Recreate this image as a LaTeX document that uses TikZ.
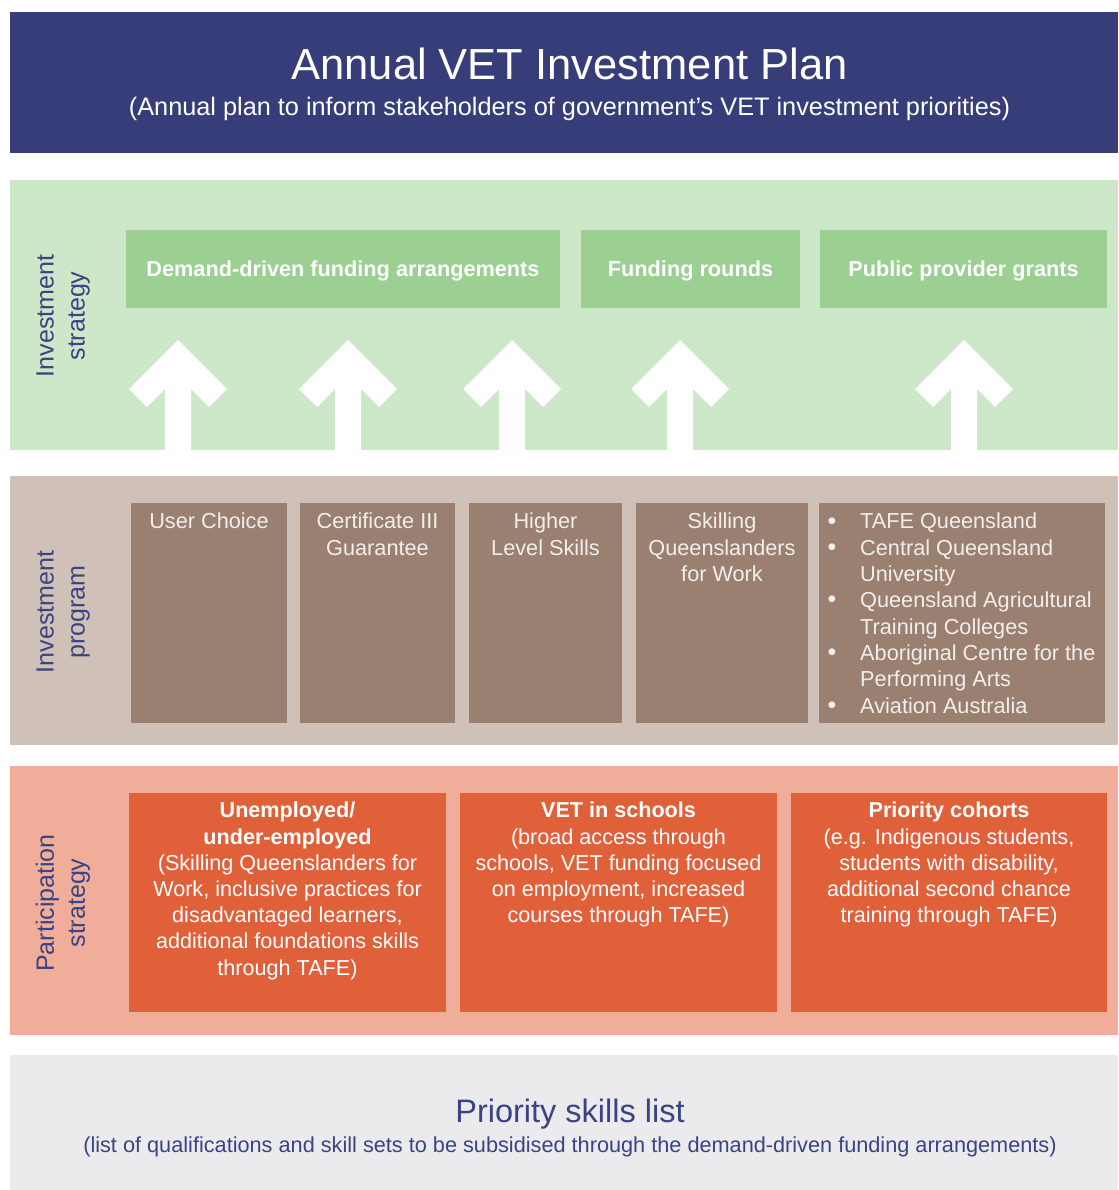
\documentclass[tikz,border=0pt]{standalone}
\usepackage{fontspec}
\setmainfont{Liberation Sans}
\definecolor{hdr}{HTML}{363D79}
\definecolor{navy}{HTML}{3A4383}
\definecolor{gband}{HTML}{CDE7C9}
\definecolor{gbox}{HTML}{9BD092}
\definecolor{bband}{HTML}{CFC1B8}
\definecolor{bbox}{HTML}{9A8070}
\definecolor{oband}{HTML}{F0AE9A}
\definecolor{obox}{HTML}{E0603A}
\definecolor{greyband}{HTML}{EBEBED}
\definecolor{ptext}{HTML}{F3EEEA}
\begin{document}
\begin{tikzpicture}[x=1pt,y=-1pt,
  sidelabel/.style={rotate=90, align=center, text=navy, inner sep=0pt,
    font=\fontsize{25}{31}\selectfont},
  stratbox/.style={fill=gbox, draw=none, inner sep=0pt},
  strattext/.style={inner sep=0pt, text=white, anchor=base,
    font=\fontsize{21.7}{25}\selectfont\bfseries},
  progbox/.style={fill=bbox, draw=none, inner sep=0pt},
  progtext/.style={anchor=north, align=center, inner sep=0pt, text=ptext,
    font=\fontsize{21.7}{26.3}\selectfont},
  partbox/.style={fill=obox, draw=none, inner sep=0pt},
  parttext/.style={anchor=north, align=center, inner sep=0pt, text=white,
    font=\fontsize{21.6}{26.2}\selectfont},
  bulletmark/.style={anchor=base, inner sep=0pt, text=ptext,
    font=\fontsize{25}{26.3}\selectfont},
  uparrow/.style={fill=white, draw=none}
]
\useasboundingbox (0,0) rectangle (1118,1190);

% ---------- header ----------
\fill[hdr] (10,12) rectangle (1118,153);
\node[anchor=base, inner sep=0pt, text=white, font=\fontsize{43.5}{50}\selectfont]
  (title) at (569.5,80) {Annual VET Investment Plan};
\node[anchor=base, inner sep=0pt, text=white, font=\fontsize{25.3}{28}\selectfont]
  (subtitle) at (569.5,116) {(Annual plan to inform stakeholders of government’s VET investment priorities)};

% ---------- investment strategy ----------
\fill[gband] (10,180) rectangle (1118,450);
\node[sidelabel] (lstrat) at (63,316) {Investment\\strategy};
\node[stratbox, minimum width=434pt, minimum height=78pt] (s1) at (343,269) {};
\node[stratbox, minimum width=219pt, minimum height=78pt] (s2) at (690.5,269) {};
\node[stratbox, minimum width=287pt, minimum height=78pt] (s3) at (963.5,269) {};
\node[strattext] (s1t) at (343,276.5) {Demand-driven funding arrangements};
\node[strattext] (s2t) at (690.5,276.5) {Funding rounds};
\node[strattext] (s3t) at (963.5,276.5) {Public provider grants};

\foreach \c in {178,348,512,680,964}{
  \fill[uparrow] (\c,340) -- (\c+49,389) -- (\c+31,407) -- (\c+13,389)
    -- (\c+13,450) -- (\c-13,450) -- (\c-13,389) -- (\c-31,407)
    -- (\c-49,389) -- cycle;
}

% ---------- investment program ----------
\fill[bband] (10,476) rectangle (1118,745);
\node[sidelabel] (lprog) at (63,612) {Investment\\program};
\node[progbox, minimum width=156pt, minimum height=220pt] (p1) at (209,613) {};
\node[progbox, minimum width=155pt, minimum height=220pt] (p2) at (377.5,613) {};
\node[progbox, minimum width=153pt, minimum height=220pt] (p3) at (545.5,613) {};
\node[progbox, minimum width=172pt, minimum height=220pt] (p4) at (722,613) {};
\node[progbox, minimum width=286pt, minimum height=220pt] (p5) at (962,613) {};

\node[progtext] (t1) at (209,513) {User Choice};
\node[progtext] (t2) at (377.5,513) {Certificate III\\Guarantee};
\node[progtext] (t3) at (545.5,513) {Higher\\Level Skills};
\node[progtext] (t4) at (722,513) {Skilling\\Queenslanders\\for Work};
\node[progtext, anchor=north west, align=left] (t5) at (860,513)
  {TAFE Queensland\\Central Queensland\\University\\Queensland Agricultural\\Training Colleges\\Aboriginal Centre for the\\Performing Arts\\Aviation Australia};
\node[bulletmark] (b1) at (832,529) {•};
\node[bulletmark] (b2) at (832,555.3) {•};
\node[bulletmark] (b3) at (832,607.9) {•};
\node[bulletmark] (b4) at (832,660.5) {•};
\node[bulletmark] (b5) at (832,713.1) {•};

% ---------- participation strategy ----------
\fill[oband] (10,766) rectangle (1118,1035);
\node[sidelabel] (lpart) at (63,903) {Participation\\strategy};
\node[partbox, minimum width=317pt, minimum height=219pt] (o1) at (287.5,902.5) {};
\node[partbox, minimum width=317pt, minimum height=219pt] (o2) at (618.5,902.5) {};
\node[partbox, minimum width=316pt, minimum height=219pt] (o3) at (949,902.5) {};
\node[parttext] (u1) at (287.5,802) {\textbf{Unemployed/}\\\textbf{under-employed}\\(Skilling Queenslanders for\\Work, inclusive practices for\\disadvantaged learners,\\additional foundations skills\\through TAFE)};
\node[parttext] (u2) at (618.5,802) {\textbf{VET in schools}\\(broad access through\\schools, VET funding focused\\on employment, increased\\courses through TAFE)};
\node[parttext] (u3) at (949,802) {\textbf{Priority cohorts}\\(e.g. Indigenous students,\\students with disability,\\additional second chance\\training through TAFE)};

% ---------- priority skills list ----------
\fill[greyband] (10,1055) rectangle (1118,1190);
\node[anchor=base, inner sep=0pt, text=navy, font=\fontsize{32.5}{36}\selectfont]
  (pslist) at (570,1122) {Priority skills list};
\node[anchor=base, inner sep=0pt, text=navy, font=\fontsize{21.7}{24}\selectfont]
  (pssub) at (570,1152) {(list of qualifications and skill sets to be subsidised through the demand-driven funding arrangements)};
\end{tikzpicture}
\end{document}
